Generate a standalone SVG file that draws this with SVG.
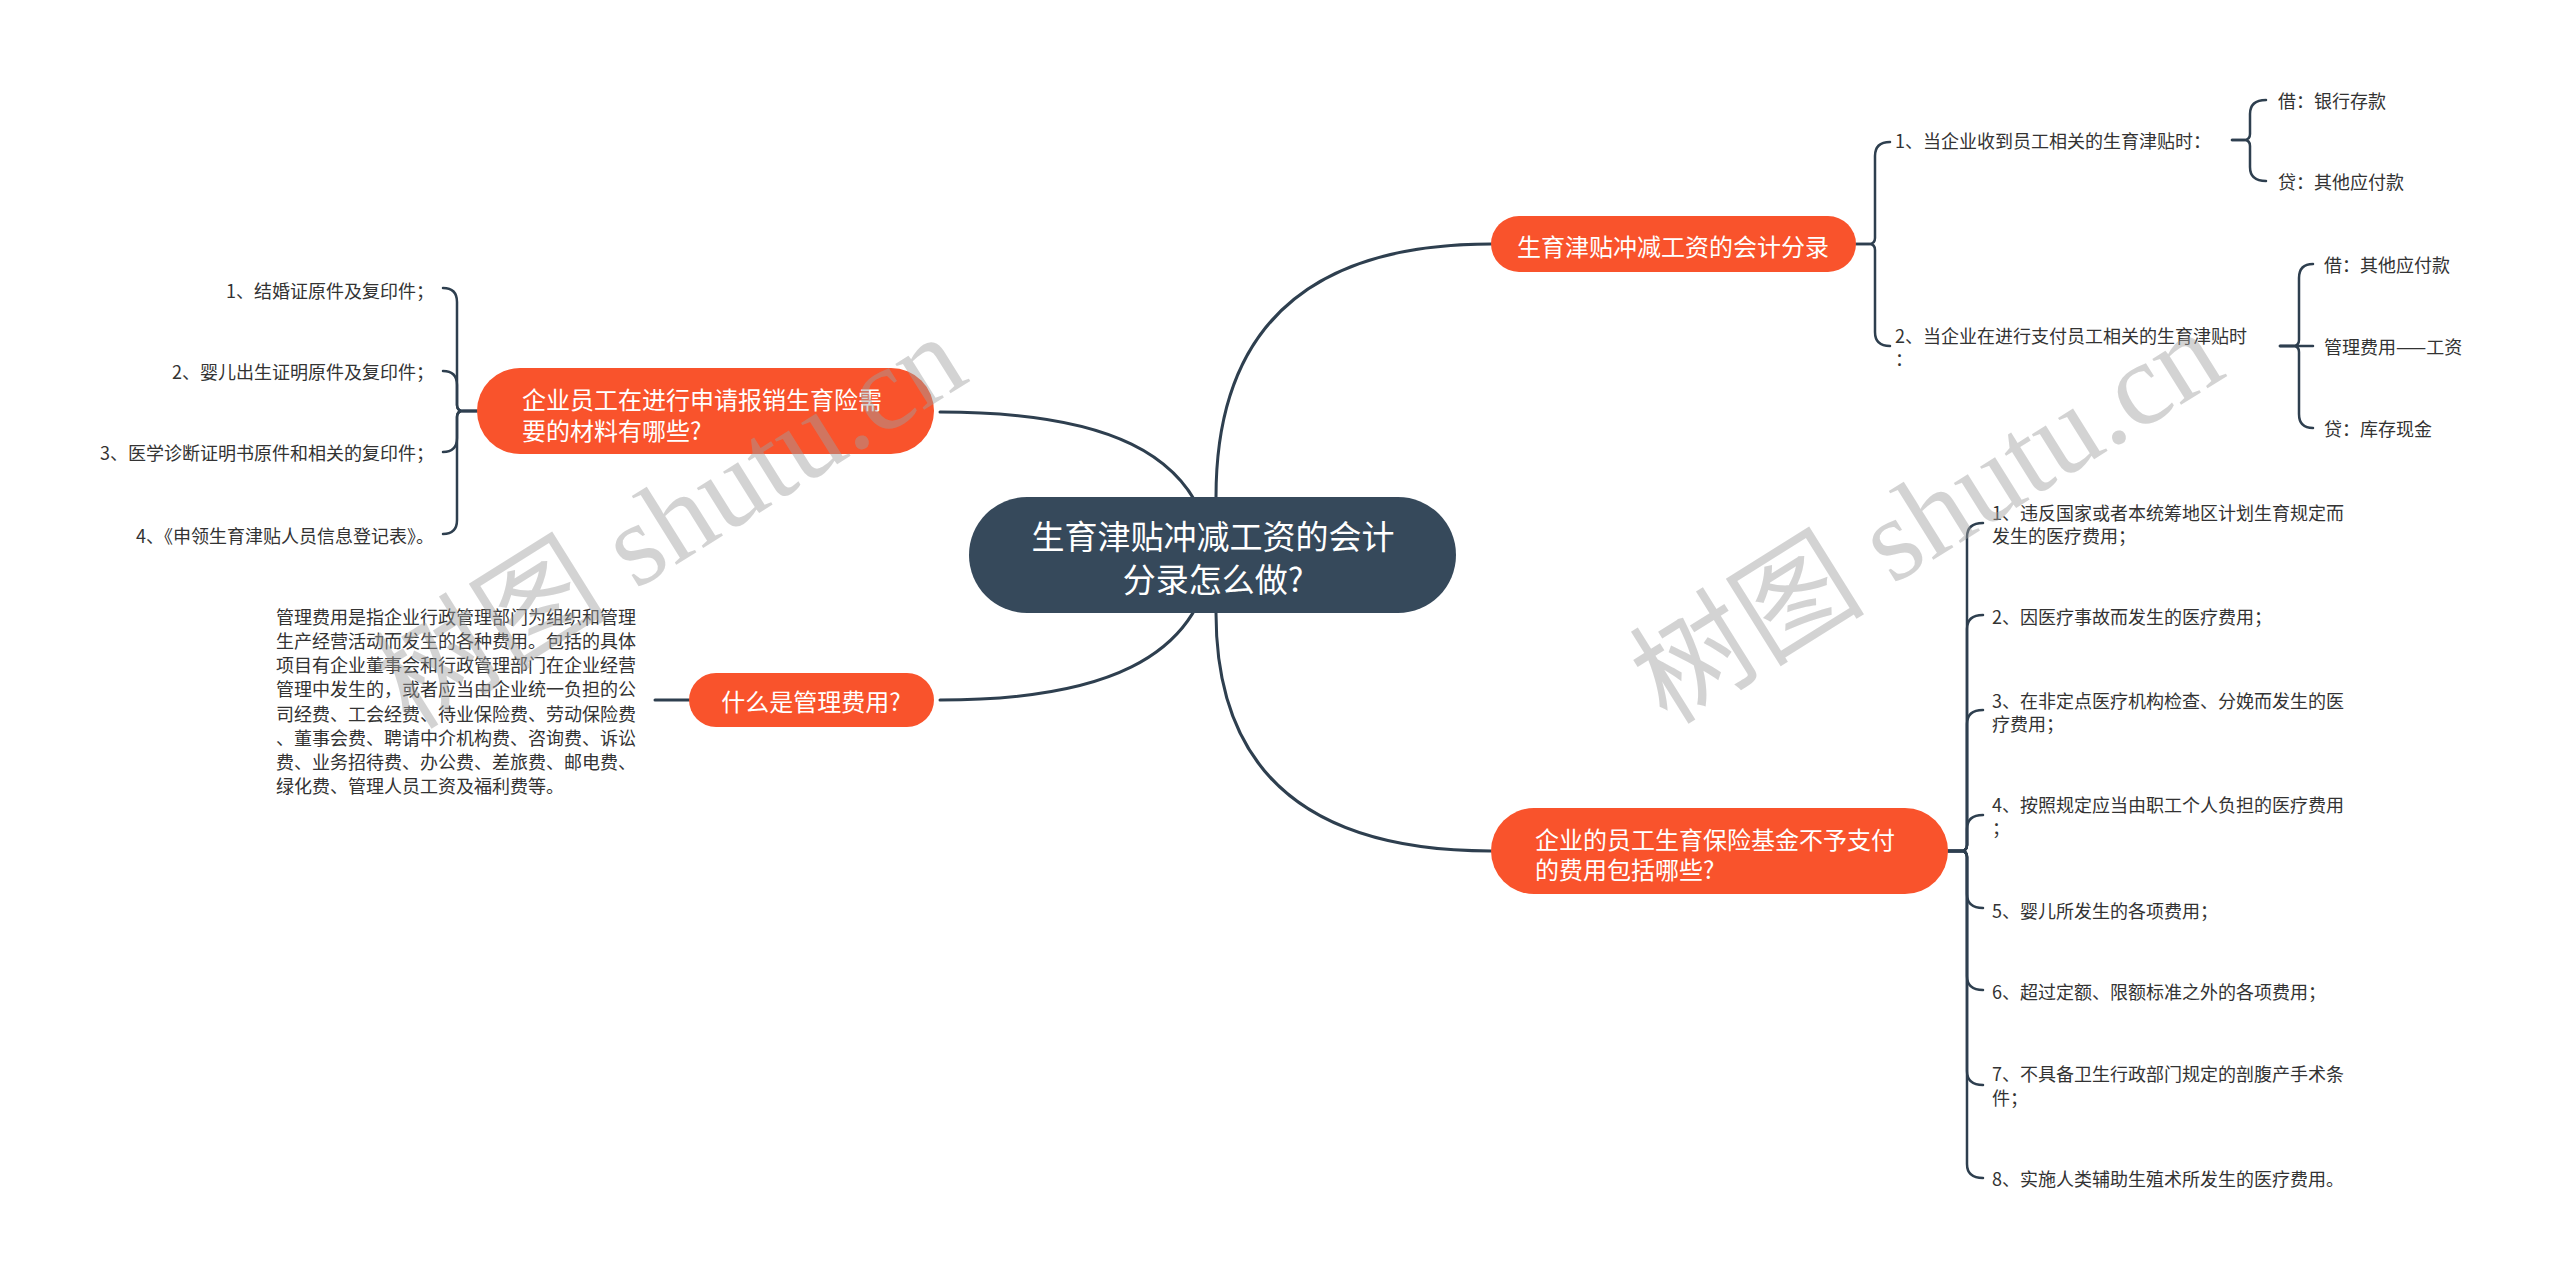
<svg xmlns="http://www.w3.org/2000/svg" width="2560" height="1281" viewBox="0 0 2560 1281">
<style>
.bg{fill:#ffffff}
.ln{fill:none;stroke:#2e3f4f;stroke-width:3;stroke-linecap:round;stroke-linejoin:round}
.br{fill:none;stroke:#2e3f4f;stroke-width:2.5;stroke-linecap:round;stroke-linejoin:round}
.root rect{fill:#36495b}
.sub rect{fill:#f9532c}
.t{font-family:"Noto Sans CJK SC","Noto Sans",sans-serif}
.rt{font-size:33px;fill:#ffffff}
.st{font-size:24px;fill:#ffffff}
.lf{font-size:18px;fill:#333333}
.wm{font-family:"Liberation Serif","Noto Sans CJK SC",serif;font-size:118px;fill:#a0a0a0;opacity:0.45}
</style>
<rect class="bg" x="0" y="0" width="2560" height="1281"/>
<g id="connectors">
  <path class="ln" d="M1216 520 L1216 497 Q1216 244 1491 244"/>
  <path class="ln" d="M1216 590 L1216 613 Q1216 851 1491 851"/>
  <path class="ln" d="M1212 555 C1200 450 1100 412 940 412"/>
  <path class="ln" d="M1212 555 C1200 660 1100 700 940 700"/>
  <path class="ln" d="M655 700 L689 700"/>
  <path class="br" d="M477 411 L463 411 Q457 411 457 405 L457 302 Q457 288 443 288"/>
  <path class="br" d="M477 411 L463 411 Q457 411 457 405 L457 385 Q457 371 443 371"/>
  <path class="br" d="M477 411 L463 411 Q457 411 457 417 L457 438 Q457 452 443 452"/>
  <path class="br" d="M477 411 L463 411 Q457 411 457 417 L457 520 Q457 534 443 534"/>
  <path class="br" d="M1856 244 L1869 244 Q1875 244 1875 238 L1875 156 Q1875 142 1890 142"/>
  <path class="br" d="M1856 244 L1869 244 Q1875 244 1875 250 L1875 332 Q1875 346 1890 346"/>
  <path class="br" d="M1948 851 L1961 851 Q1967 851 1967 845 L1967 537 Q1967 523 1983 523"/>
  <path class="br" d="M1948 851 L1961 851 Q1967 851 1967 845 L1967 629 Q1967 615 1983 615"/>
  <path class="br" d="M1948 851 L1961 851 Q1967 851 1967 845 L1967 724 Q1967 710 1983 710"/>
  <path class="br" d="M1948 851 L1961 851 Q1967 851 1967 845 L1967 829 Q1967 815 1983 815"/>
  <path class="br" d="M1948 851 L1961 851 Q1967 851 1967 857 L1967 894 Q1967 908 1983 908"/>
  <path class="br" d="M1948 851 L1961 851 Q1967 851 1967 857 L1967 976 Q1967 990 1983 990"/>
  <path class="br" d="M1948 851 L1961 851 Q1967 851 1967 857 L1967 1071 Q1967 1085 1983 1085"/>
  <path class="br" d="M1948 851 L1961 851 Q1967 851 1967 857 L1967 1164 Q1967 1178 1983 1178"/>
  <path class="br" d="M2232 140 L2244 140 Q2250 140 2250 134 L2250 114 Q2250 100 2266 100"/>
  <path class="br" d="M2232 140 L2244 140 Q2250 140 2250 146 L2250 167 Q2250 181 2266 181"/>
  <path class="br" d="M2280 346 L2293 346 Q2299 346 2299 340 L2299 278 Q2299 264 2313 264"/>
  <path class="br" d="M2280 346 L2313 346"/>
  <path class="br" d="M2280 346 L2293 346 Q2299 346 2299 352 L2299 414 Q2299 428 2313 428"/>
</g>
<g id="root" class="root">
  <rect x="969" y="497" width="487" height="116" rx="58"/>
  <text class="t rt" text-anchor="middle" dominant-baseline="central"><tspan x="1213" y="535">生育津贴冲减工资的会计</tspan><tspan x="1213" y="578">分录怎么做?</tspan></text>
</g>
<g id="n1" class="sub">
  <rect x="1491" y="216" width="365" height="56" rx="28"/>
  <text class="t st" x="1673" y="245" text-anchor="middle" dominant-baseline="central">生育津贴冲减工资的会计分录</text>
</g>
<g id="n2" class="sub">
  <rect x="1491" y="808" width="457" height="86" rx="43"/>
  <text class="t st" dominant-baseline="central"><tspan x="1535" y="838">企业的员工生育保险基金不予支付</tspan><tspan x="1535" y="868">的费用包括哪些?</tspan></text>
</g>
<g id="n3" class="sub">
  <rect x="477" y="368" width="457" height="86" rx="43"/>
  <text class="t st" dominant-baseline="central"><tspan x="522" y="398">企业员工在进行申请报销生育险需</tspan><tspan x="522" y="429">要的材料有哪些?</tspan></text>
</g>
<g id="n4" class="sub">
  <rect x="689" y="673" width="245" height="54" rx="27"/>
  <text class="t st" x="811" y="700" text-anchor="middle" dominant-baseline="central">什么是管理费用?</text>
</g>
<g id="n4-text">
  <text class="t lf" dominant-baseline="central">
    <tspan x="276" y="616">管理费用是指企业行政管理部门为组织和管理</tspan>
    <tspan x="276" y="640">生产经营活动而发生的各种费用。包括的具体</tspan>
    <tspan x="276" y="664">项目有企业董事会和行政管理部门在企业经营</tspan>
    <tspan x="276" y="688">管理中发生的，或者应当由企业统一负担的公</tspan>
    <tspan x="276" y="713">司经费、工会经费、待业保险费、劳动保险费</tspan>
    <tspan x="276" y="737">、董事会费、聘请中介机构费、咨询费、诉讼</tspan>
    <tspan x="276" y="761">费、业务招待费、办公费、差旅费、邮电费、</tspan>
    <tspan x="276" y="785">绿化费、管理人员工资及福利费等。</tspan>
  </text>
</g>
<g id="n3-leaves">
  <text class="t lf" x="434" y="290" text-anchor="end" dominant-baseline="central">1、结婚证原件及复印件；</text>
  <text class="t lf" x="434" y="371" text-anchor="end" dominant-baseline="central">2、婴儿出生证明原件及复印件；</text>
  <text class="t lf" x="434" y="452" text-anchor="end" dominant-baseline="central">3、医学诊断证明书原件和相关的复印件；</text>
  <text class="t lf" x="434" y="535" text-anchor="end" dominant-baseline="central">4、《申领生育津贴人员信息登记表》。</text>
</g>
<g id="n1-leaves">
  <text class="t lf" x="1895" y="140" dominant-baseline="central">1、当企业收到员工相关的生育津贴时：</text>
  <text class="t lf" dominant-baseline="central"><tspan x="1895" y="335">2、当企业在进行支付员工相关的生育津贴时</tspan><tspan x="1895" y="358">：</tspan></text>
  <text class="t lf" x="2278" y="100" dominant-baseline="central">借：银行存款</text>
  <text class="t lf" x="2278" y="181" dominant-baseline="central">贷：其他应付款</text>
  <text class="t lf" x="2324" y="264" dominant-baseline="central">借：其他应付款</text>
  <text class="t lf" x="2324" y="346" dominant-baseline="central">管理费用——工资</text>
  <text class="t lf" x="2324" y="428" dominant-baseline="central">贷：库存现金</text>
</g>
<g id="n2-leaves">
  <text class="t lf" dominant-baseline="central"><tspan x="1992" y="512">1、违反国家或者本统筹地区计划生育规定而</tspan><tspan x="1992" y="535">发生的医疗费用；</tspan></text>
  <text class="t lf" x="1992" y="616" dominant-baseline="central">2、因医疗事故而发生的医疗费用；</text>
  <text class="t lf" dominant-baseline="central"><tspan x="1992" y="700">3、在非定点医疗机构检查、分娩而发生的医</tspan><tspan x="1992" y="723">疗费用；</tspan></text>
  <text class="t lf" dominant-baseline="central"><tspan x="1992" y="804">4、按照规定应当由职工个人负担的医疗费用</tspan><tspan x="1992" y="827">；</tspan></text>
  <text class="t lf" x="1992" y="910" dominant-baseline="central">5、婴儿所发生的各项费用；</text>
  <text class="t lf" x="1992" y="991" dominant-baseline="central">6、超过定额、限额标准之外的各项费用；</text>
  <text class="t lf" dominant-baseline="central"><tspan x="1992" y="1073">7、不具备卫生行政部门规定的剖腹产手术条</tspan><tspan x="1992" y="1097">件；</tspan></text>
  <text class="t lf" x="1992" y="1178" dominant-baseline="central">8、实施人类辅助生殖术所发生的医疗费用。</text>
</g>
<g id="watermarks">
  <text class="wm" x="670" y="522" text-anchor="middle" dominant-baseline="central" transform="rotate(-32 670 522)">树图 shutu.cn</text>
  <text class="wm" x="1927" y="517" text-anchor="middle" dominant-baseline="central" transform="rotate(-32 1927 517)">树图 shutu.cn</text>
</g>
</svg>
